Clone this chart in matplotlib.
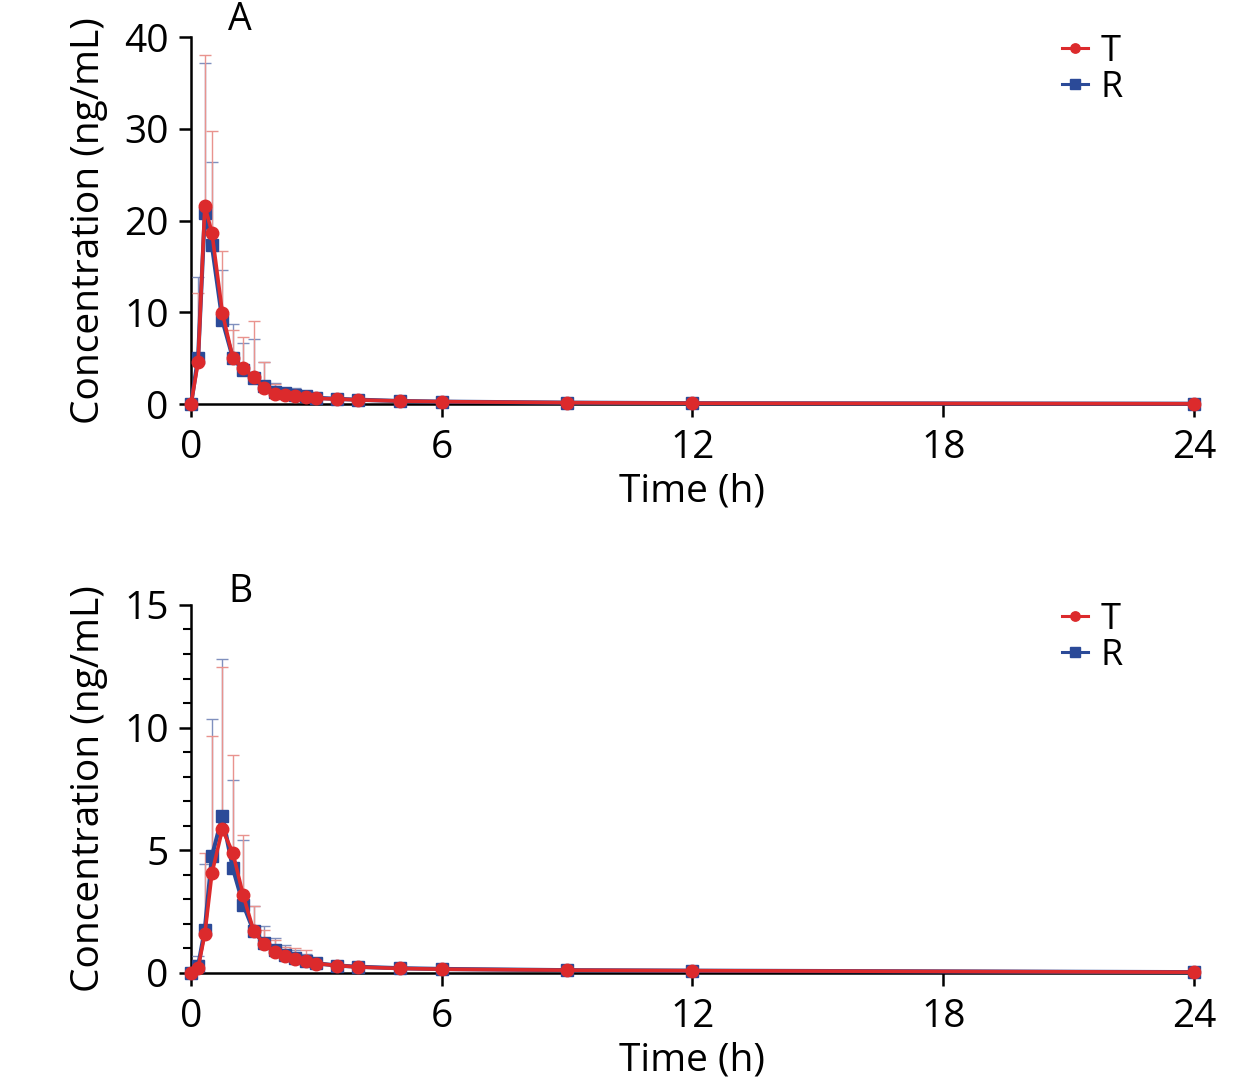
import matplotlib
matplotlib.use("Agg")
import matplotlib.pyplot as plt
from matplotlib.ticker import MultipleLocator
import numpy as np

plt.rcParams['font.family'] = ['Open Sans', 'DejaVu Sans']

time_h = [0, 0.17, 0.33, 0.5, 0.75, 1.0, 1.25, 1.5, 1.75, 2.0, 2.25, 2.5, 2.75,
          3.0, 3.5, 4.0, 5.0, 6.0, 9.0, 12.0, 24.0]

# Panel A
a_T_mean = [0, 4.6, 21.6, 18.7, 9.95, 5.05, 3.9, 2.9, 1.8, 1.1, 0.98, 0.85, 0.72,
            0.62, 0.54, 0.45, 0.33, 0.26, 0.15, 0.09, 0.03]
a_T_sd = [0, 7.5, 16.5, 11.1, 6.75, 3.05, 3.4, 6.1, 2.8, 1.1, 0.6, 0.5, 0.4,
          0.3, 0.25, 0.2, 0.15, 0.12, 0.08, 0.05, 0.02]
a_R_mean = [0, 5.05, 20.8, 17.3, 9.15, 5.05, 3.7, 2.8, 2.0, 1.35, 1.15, 1.0, 0.87,
            0.68, 0.56, 0.47, 0.33, 0.26, 0.15, 0.09, 0.03]
a_R_sd = [0, 8.8, 16.4, 9.1, 5.45, 3.65, 3.0, 4.25, 2.6, 0.9, 0.6, 0.75, 0.45,
          0.3, 0.25, 0.2, 0.15, 0.12, 0.08, 0.05, 0.02]

# Panel B
b_T_mean = [0, 0.2, 1.57, 4.05, 5.85, 4.9, 3.15, 1.7, 1.16, 0.86, 0.68, 0.57, 0.46,
            0.37, 0.29, 0.23, 0.17, 0.14, 0.1, 0.08, 0.02]
b_T_sd = [0, 0.3, 3.33, 5.6, 6.6, 3.96, 2.45, 1.0, 0.6, 0.47, 0.36, 0.45, 0.47,
          0.2, 0.15, 0.12, 0.09, 0.07, 0.05, 0.04, 0.01]
b_R_mean = [0, 0.27, 1.75, 4.75, 6.38, 4.27, 2.78, 1.7, 1.2, 0.93, 0.7, 0.58, 0.48,
            0.38, 0.29, 0.24, 0.18, 0.15, 0.1, 0.08, 0.02]
b_R_sd = [0, 0.42, 2.7, 5.6, 6.4, 3.6, 2.65, 1.0, 0.7, 0.5, 0.44, 0.35, 0.3,
          0.2, 0.15, 0.12, 0.09, 0.07, 0.05, 0.04, 0.01]

panel_labels = ["A", "B"]
series_labels = ["T", "R"]
x_ticks = [0, 6, 12, 18, 24]

T_COLOR = '#DC2A2C'
R_COLOR = '#2B4A98'
T_ERR = '#E9938E'
R_ERR = '#8090BE'

W, H = 1260, 1092
fig = plt.figure(figsize=(12.6, 10.92), dpi=100)
axA = fig.add_axes([0.1516, 0.630, 0.7960, 0.336])
axB = fig.add_axes([0.1516, 0.1093, 0.7960, 0.3367])

def draw(ax, tm, tsd, rm, rsd, ymax, major, minor, label, leg_y_px, lab_y):
    zeros = np.zeros(len(time_h))
    ax.errorbar(time_h, rm, yerr=[zeros, rsd], fmt='none', ecolor=R_ERR,
                elinewidth=1.0, capsize=4, capthick=1.0, zorder=2, clip_on=False)
    ax.errorbar(time_h, tm, yerr=[zeros, tsd], fmt='none', ecolor=T_ERR,
                elinewidth=1.0, capsize=4, capthick=1.0, zorder=2, clip_on=False)
    ax.plot(time_h, rm, color=R_COLOR, lw=3, marker='s', ms=9,
            label=series_labels[1], zorder=3, clip_on=False)
    ax.plot(time_h, tm, color=T_COLOR, lw=2.6, marker='o', ms=9,
            label=series_labels[0], zorder=4, clip_on=False)
    ax.set_xlim(0, 24)
    ax.set_ylim(0, ymax)
    ax.set_xticks(x_ticks)
    ax.yaxis.set_major_locator(MultipleLocator(major))
    if minor:
        ax.yaxis.set_minor_locator(MultipleLocator(minor))
    for s in ['top', 'right']:
        ax.spines[s].set_visible(False)
    for s in ['left', 'bottom']:
        ax.spines[s].set_linewidth(1.8)
        ax.spines[s].set_zorder(1)
    ax.tick_params(axis='both', which='major', direction='out', length=9,
                   width=1.8, labelsize=28, pad=7)
    ax.tick_params(axis='x', which='major', pad=9)
    ax.tick_params(axis='y', which='minor', direction='out', length=6, width=1.5)
    ax.set_xlabel('Time (h)', fontsize=28, labelpad=4)
    ax.set_ylabel('Concentration (ng/mL)', fontsize=28, labelpad=12)
    ax.text(0.049, lab_y, label, transform=ax.transAxes, fontsize=27,
            ha='center', va='center')
    h, l = ax.get_legend_handles_labels()
    leg = ax.legend([h[1], h[0]], [l[1], l[0]], loc='center left',
                    bbox_to_anchor=(1062 / W, 1 - leg_y_px / H),
                    bbox_transform=fig.transFigure,
                    frameon=False, fontsize=26, borderpad=0, borderaxespad=0,
                    handlelength=0.72, handletextpad=0.35, labelspacing=0.0,
                    markerscale=0.75)
    for line in leg.get_lines():
        line.set_linewidth(2.2)

draw(axA, a_T_mean, a_T_sd, a_R_mean, a_R_sd, 40, 10, None, panel_labels[0], 70, 1.046)
draw(axB, b_T_mean, b_T_sd, b_R_mean, b_R_sd, 15, 5, 1, panel_labels[1], 638, 1.036)

fig.savefig('out.png', dpi=100)
